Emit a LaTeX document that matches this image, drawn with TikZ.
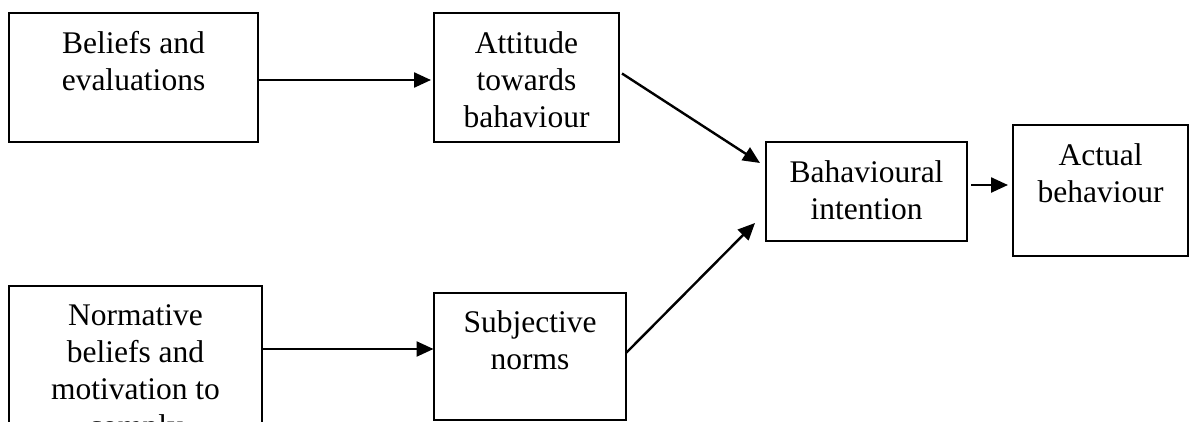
\documentclass[tikz,border=0pt]{standalone}
\usepackage{fontspec}
\setmainfont{Liberation Serif}
\usetikzlibrary{arrows.meta,calc}
\begin{document}
\begin{tikzpicture}[x=1pt,y=-1pt,
  box/.style n args={2}{draw, line width=1.6pt, anchor=north west,
    minimum width=#1pt, minimum height=#2pt, inner sep=0pt, outer sep=0pt},
  % anchor=base sits on the baseline of the last line
  caption/.style={anchor=base, align=center, inner sep=0pt,
    font=\fontsize{31.5}{37}\selectfont},
  link/.style={line width=2.4pt, -{Triangle[length=17pt,width=15pt]}}]
  \useasboundingbox (0,0) rectangle (1189,421);
  \clip (0,0) rectangle (1189,421);

  % boxes
  \node[box={249}{129}] (b1) at (9,13) {};
  \node[box={185}{129}] (b2) at (434,13) {};
  \node[box={201}{99}]  (b3) at (766,142) {};
  \node[box={175}{131}] (b4) at (1013,125) {};
  \node[box={253}{170}] (b5) at (9,286) {};
  \node[box={192}{127}] (b6) at (434,293) {};

  % captions: first baseline about 40 below the top edge, 37 between lines
  \node[caption] (t1) at ($(b1.north)+(0,77)$) {Beliefs and\\evaluations};
  \node[caption] (t2) at ($(b2.north)+(0,114)$) {Attitude\\towards\\bahaviour};
  \node[caption] (t3) at ($(b3.north)+(0,77)$) {Bahavioural\\intention};
  \node[caption] (t4) at ($(b4.north)+(0,77)$) {Actual\\behaviour};
  \node[caption] (t5) at ($(b5.north)+(0,150)$) {Normative\\beliefs and\\motivation to\\comply};
  \node[caption] (t6) at ($(b6.north)+(0,76)$) {Subjective\\norms};

  % connectors
  \coordinate (s1) at ($(b1.east)+(0,2.5)$);
  \draw[link, shorten >=3pt] (s1) -- (s1 -| b2.west);
  \coordinate (s5) at ($(b5.north east)+(0,63)$);
  \draw[link, shorten >=0.5pt] (s5) -- (s5 -| b6.west);
  \draw[link] ($(b2.east)+(3,-4)$) -- ($(b3.west)+(-6,-28.5)$);
  \draw[link] ($(b6.east)+(0,-3.5)$) -- ($(b3.west)+(-11,31.5)$);
  \coordinate (s3) at ($(b3.east)+(4,-6.5)$);
  \draw[link, shorten >=5pt] (s3) -- (s3 -| b4.west);
\end{tikzpicture}
\end{document}
